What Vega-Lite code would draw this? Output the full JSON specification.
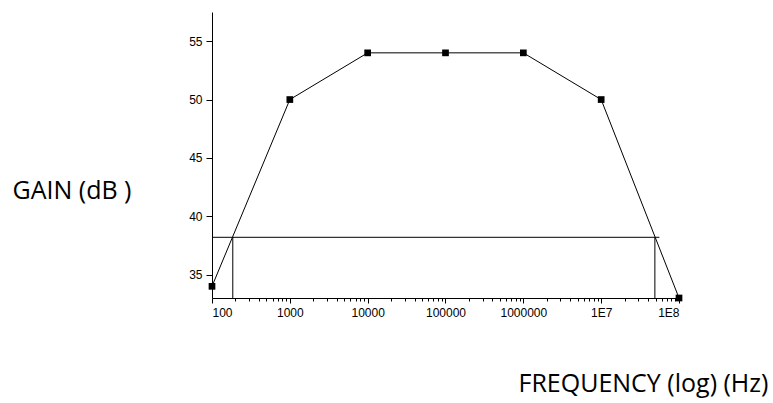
{
  "$schema": "https://vega.github.io/schema/vega-lite/v6.json",
  "autosize": "none",
  "width": 467,
  "height": 286,
  "padding": {"left": 212, "top": 12, "right": 94, "bottom": 105},
  "background": "white",
  "config": {
    "view": {"stroke": null},
    "axis": {
      "grid": false,
      "domainColor": "black",
      "domainWidth": 1,
      "tickColor": "black",
      "tickWidth": 1,
      "labelColor": "black",
      "labelFont": "Liberation Sans",
      "labelFontSize": 12,
      "labelOverlap": false,
      "titleFont": "Open Sans",
      "titleFontSize": 25,
      "titleFontWeight": "normal",
      "titleColor": "black"
    }
  },
  "datasets": {
    "gain": [
      {"freq": 100, "gain": 34},
      {"freq": 1000, "gain": 50},
      {"freq": 10000, "gain": 54},
      {"freq": 100000, "gain": 54},
      {"freq": 1000000, "gain": 54},
      {"freq": 10000000, "gain": 50},
      {"freq": 100000000, "gain": 33}
    ],
    "cutoff": [
      {"f1": 100, "f2": 56000000, "g1": 38.2, "g2": 38.2},
      {"f1": 185, "f2": 185, "g1": 33, "g2": 38.2},
      {"f1": 49000000, "f2": 49000000, "g1": 33, "g2": 38.2}
    ]
  },
  "layer": [
    {
      "data": {"name": "cutoff"},
      "mark": {"type": "rule", "color": "black", "strokeWidth": 1},
      "encoding": {
        "x": {
          "field": "f1",
          "type": "quantitative",
          "scale": {"type": "log", "domain": [100, 100000000], "nice": false},
          "axis": {
            "title": "FREQUENCY (log) (Hz)",
            "titleAlign": "left",
            "titleBaseline": "alphabetic",
            "titleX": 306,
            "titleY": 93,
            "values": [100, 200, 300, 400, 500, 600, 700, 800, 900,
                       1000, 2000, 3000, 4000, 5000, 6000, 7000, 8000, 9000,
                       10000, 20000, 30000, 40000, 50000, 60000, 70000, 80000, 90000,
                       100000, 200000, 300000, 400000, 500000, 600000, 700000, 800000, 900000,
                       1000000, 2000000, 3000000, 4000000, 5000000, 6000000, 7000000, 8000000, 9000000,
                       10000000, 20000000, 30000000, 40000000, 50000000, 60000000, 70000000, 80000000, 90000000,
                       100000000],
            "labelExpr": "abs(log(datum.value)/LN10 - round(log(datum.value)/LN10)) > 0.001 ? '' : (datum.value >= 10000000 ? '1E' + round(log(datum.value)/LN10) : format(datum.value, 'd'))",
            "tickSize": {"condition": {"test": "abs(log(datum.value)/LN10 - round(log(datum.value)/LN10)) < 0.001", "value": 5}, "value": 3},
            "labelPadding": 4
          }
        },
        "x2": {"field": "f2"},
        "y": {
          "field": "g1",
          "type": "quantitative",
          "scale": {"domain": [33, 57.5], "nice": false, "zero": false},
          "axis": {
            "title": "GAIN (dB )",
            "titleAngle": 0,
            "titleAlign": "left",
            "titleBaseline": "alphabetic",
            "titleX": -200,
            "titleY": 186,
            "values": [35, 37.5, 40, 42.5, 45, 47.5, 50, 52.5, 55, 57.5],
            "labelExpr": "datum.value % 5 == 0 ? datum.value : ''",
            "tickSize": {"condition": {"test": "datum.value % 5 == 0", "value": 6}, "value": 3},
            "labelPadding": 4
          }
        },
        "y2": {"field": "g2"}
      }
    },
    {
      "data": {"name": "gain"},
      "mark": {"type": "line", "color": "black", "strokeWidth": 1},
      "encoding": {
        "x": {"field": "freq", "type": "quantitative"},
        "y": {"field": "gain", "type": "quantitative"}
      }
    },
    {
      "data": {"name": "gain"},
      "mark": {"type": "point", "shape": "square", "filled": true, "color": "black", "opacity": 1, "size": 45},
      "encoding": {
        "x": {"field": "freq", "type": "quantitative"},
        "y": {"field": "gain", "type": "quantitative"}
      }
    }
  ]
}
